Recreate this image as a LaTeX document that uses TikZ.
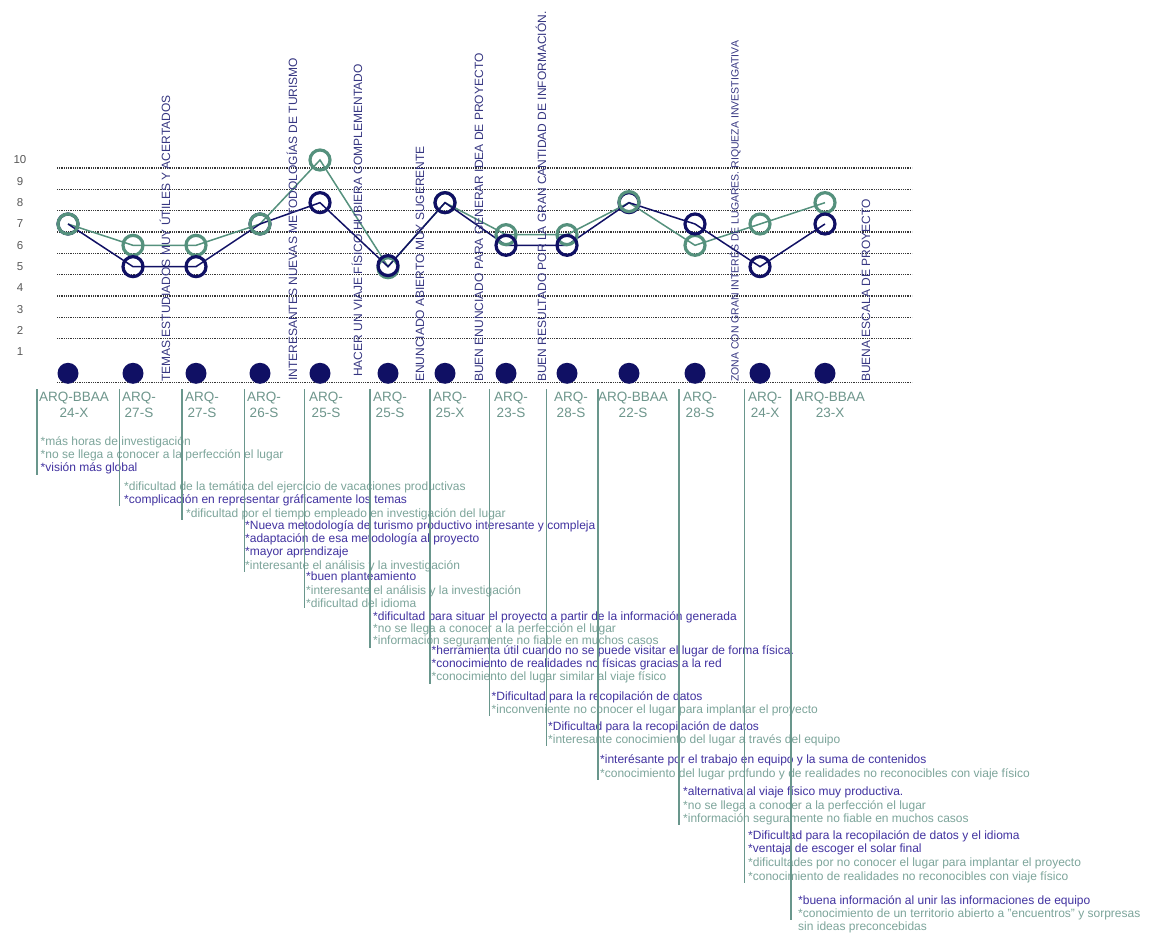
\documentclass[tikz,border=0pt]{standalone}
\usepackage{fontspec}
\setmainfont{Liberation Sans}
\usepackage{tikz}

\definecolor{tutor}{RGB}{16,16,100}
\definecolor{alumno}{RGB}{85,145,125}
\definecolor{rotulo}{RGB}{55,55,130}
\definecolor{codigo}{RGB}{110,150,140}
\definecolor{fuerte}{RGB}{65,50,160}
\definecolor{suave}{RGB}{125,165,155}
\definecolor{raya}{RGB}{105,150,140}
\definecolor{rejilla}{RGB}{55,55,55}

\tikzstyle{rej}=[draw=rejilla, line width=1.3pt, dash pattern=on 1pt off 0.8pt]
\tikzstyle{eje}=[inner sep=0pt, text=black!65, font=\fontsize{11.5}{11.5}\selectfont]
\tikzstyle{vert}=[rotate=90, anchor=west, inner sep=0pt, text=rotulo, font=\fontsize{12}{12}\selectfont]
\tikzstyle{cod}=[inner sep=0pt, align=center, text=codigo, font=\fontsize{13.5}{16}\selectfont]
\tikzstyle{nota}=[anchor=north west, inner sep=0pt, align=left, font=\fontsize{12}{13.3}\selectfont]
\tikzstyle{sep}=[draw=raya, line width=1.2pt]
\tikzstyle{aro}=[line width=3.2pt]

\newcommand{\fu}[1]{{\color{fuerte}#1}}
\newcommand{\su}[1]{{\color{suave}#1}}

\begin{document}
\begin{tikzpicture}[x=1pt, y=-1pt]
	\useasboundingbox (0,0) rectangle (1149,936);
	\fill[white] (0,0) rectangle (1149,936);

	% grafico de notas
	\begin{scope}[shift={(0,373.3)}, y=21.33pt]
		\foreach \k in {2,...,10} \draw[rej] (57,\k-0.375) -- (912,\k-0.375);
		\draw[rej] (57,-0.44) -- (912,-0.44);
		\foreach \k in {1,...,10} \node[eje] (e\k) at (20,\k) {\k};

		\draw[alumno, line width=1.5pt] plot coordinates {(68,7) (133,6) (196,6) (260,7) (320,10) (388,5) (445,8) (506,6.5) (567,6.5) (629,8) (695,6) (760,7) (825,8)};
		\draw[tutor, line width=1.5pt] plot coordinates {(68,7) (133,5) (196,5) (260,7) (320,8) (388,5) (445,8) (506,6) (567,6) (629,8) (695,7) (760,5) (825,7)};

		\draw[tutor, aro] (68,7) circle (10pt) (260,7) circle (10pt) (629,8) circle (10pt);
		\draw[alumno, aro] (68,7) circle (10pt) (133,6) circle (10pt) (196,6) circle (10pt) (260,7) circle (10pt) (320,10) circle (10pt) (388,4.95) circle (10pt) (445,8) circle (10pt);
		\draw[alumno, aro] (506,6.5) circle (10pt) (567,6.5) circle (10pt) (629,8.05) circle (10pt) (695,6) circle (10pt) (760,7) circle (10pt) (825,8) circle (10pt);
		\draw[tutor, aro] (133,5) circle (10pt) (196,5) circle (10pt) (320,8) circle (10pt) (388,5.05) circle (10pt) (445,8) circle (10pt) (506,6) circle (10pt) (567,6) circle (10pt) (695,7) circle (10pt) (760,5) circle (10pt) (825,7) circle (10pt);

		\fill[tutor] (68,0) circle (10.5pt) (133,0) circle (10.5pt) (196,0) circle (10.5pt) (260,0) circle (10.5pt) (320,0) circle (10.5pt) (388,0) circle (10.5pt) (445,0) circle (10.5pt);
		\fill[tutor] (506,0) circle (10.5pt) (567,0) circle (10.5pt) (629,0) circle (10.5pt) (695,0) circle (10.5pt) (760,0) circle (10.5pt) (825,0) circle (10.5pt);
	\end{scope}

	% rotulos verticales
	\node[vert] (v1) at (165,382) {TEMAS ESTUDIADOS MUY ÚTILES Y ACERTADOS};
	\node[vert] (v2) at (292,381) {INTERESANTES NUEVAS METODOLOGÍAS DE TURISMO};
	\node[vert] (v3) at (357,377) {HACER UN VIAJE FÍSICO HUBIERA COMPLEMENTADO};
	\node[vert] (v4) at (420,382) {ENUNCIADO ABIERTO MUY SUGERENTE};
	\node[vert] (v5) at (479,382) {BUEN ENUNCIADO PARA GENERAR IDEA DE PROYECTO};
	\node[vert] (v6) at (541,382) {BUEN RESULTADO POR LA GRAN CANTIDAD DE INFORMACIÓN.};
	\node[vert, font=\fontsize{10.5}{10.5}\selectfont] (v7) at (735,382) {ZONA CON GRAN INTERÉS DE LUGARES. RIQUEZA INVESTIGATIVA};
	\node[vert] (v8) at (866,382) {BUENA ESCALA DE PROYECTO};

	% codigos de grupo
	\node[cod] (l1) at (74,405) {ARQ-BBAA\\24-X};
	\node[cod] (l2) at (139,405) {ARQ-\\27-S};
	\node[cod] (l3) at (202,405) {ARQ-\\27-S};
	\node[cod] (l4) at (264,405) {ARQ-\\26-S};
	\node[cod] (l5) at (326,405) {ARQ-\\25-S};
	\node[cod] (l6) at (390,405) {ARQ-\\25-S};
	\node[cod] (l7) at (450,405) {ARQ-\\25-X};
	\node[cod] (l8) at (511,405) {ARQ-\\23-S};
	\node[cod] (l9) at (571,405) {ARQ-\\28-S};
	\node[cod] (l10) at (633,405) {ARQ-BBAA\\22-S};
	\node[cod] (l11) at (700,405) {ARQ-\\28-S};
	\node[cod] (l12) at (765,405) {ARQ-\\24-X};
	\node[cod] (l13) at (830,405) {ARQ-BBAA\\23-X};

	% comentarios
	\node[nota] (n1) at (40.5,436.2) {\su{*más horas de investigación}\\\su{*no se llega a conocer a la perfección el lugar}\\\fu{*visión más global}};
	\node[nota] (n2) at (124,481.2) {\su{*dificultad de la temática del ejercicio de vacaciones productivas}\\\fu{*complicación en representar gráficamente los temas}};
	\node[nota] (n3) at (186,508.5) {\su{*dificultad por el tiempo empleado en investigación del lugar}};
	\node[nota] (n4) at (245,520.2) {\fu{*Nueva metodología de turismo productivo interesante y compleja}\\\fu{*adaptación de esa metodología al proyecto}\\\fu{*mayor aprendizaje}\\\su{*interesante el análisis y la investigación}};
	\node[nota] (n5) at (306,571.9) {\fu{*buen planteamiento}\\\su{*interesante el análisis y la investigación}\\\su{*dificultad del idioma}};
	\node[nota, font=\fontsize{12}{12}\selectfont] (n6) at (373,611.9) {\fu{*dificultad para situar el proyecto a partir de la información generada}\\\su{*no se llega a conocer a la perfección el lugar}\\\su{*información seguramente no fiable en muchos casos}};
	\node[nota] (n7) at (431.5,645.2) {\fu{*herramienta útil cuando no se puede visitar el lugar de forma física.}\\\fu{*conocimiento de realidades no físicas gracias a la red}\\\su{*conocimiento del lugar similar al viaje físico}};
	\node[nota] (n8) at (491.5,691.2) {\fu{*Dificultad para la recopilación de datos}\\\su{*inconveniente no conocer el lugar para implantar el proyecto}};
	\node[nota] (n9) at (548,721.2) {\fu{*Dificultad para la recopilación de datos}\\\su{*interesante conocimiento del lugar a través del equipo}};
	\node[nota] (n10) at (600,754.7) {\fu{*interésante por el trabajo en equipo y la suma de contenidos}\\\su{*conocimiento del lugar profundo y de realidades no reconocibles con viaje físico}};
	\node[nota] (n11) at (683,786.9) {\fu{*alternativa al viaje físico muy productiva.}\\\su{*no se llega a conocer a la perfección el lugar}\\\su{*información seguramente no fiable en muchos casos}};
	\node[nota, font=\fontsize{12}{13.7}\selectfont] (n12) at (748,830.2) {\fu{*Dificultad para la recopilación de datos y el idioma}\\\fu{*ventaja de escoger el solar final}\\\su{*dificultades por no conocer el lugar para implantar el proyecto}\\\su{*conocimiento de realidades no reconocibles con viaje físico}};
	\node[nota] (n13) at (798,895.2) {\fu{*buena información al unir las informaciones de equipo}\\\su{*conocimiento de un territorio abierto a "encuentros" y sorpresas}\\\su{sin ideas preconcebidas}};

	% rayas de separacion
	\coordinate (s1) at (37,389);
	\coordinate (s2) at (119.5,389);
	\coordinate (s3) at (182,389);
	\coordinate (s4) at (244.5,389);
	\coordinate (s5) at (304.5,389);
	\coordinate (s6) at (370,389);
	\coordinate (s7) at (430,389);
	\coordinate (s8) at (489.5,389);
	\coordinate (s9) at (546.5,389);
	\coordinate (s10) at (598,389);
	\coordinate (s11) at (679,389);
	\coordinate (s12) at (744.5,389);
	\coordinate (s13) at (791,389);
	\coordinate (f13) at (791,920);
	\draw[sep] (s1) -- (s1 |- n1.south);
	\draw[sep] (s2) -- (s2 |- n2.south);
	\draw[sep] (s3) -- (s3 |- n3.south);
	\draw[sep] (s4) -- (s4 |- n4.south);
	\draw[sep] (s5) -- (s5 |- n5.south);
	\draw[sep] (s6) -- (s6 |- n6.south);
	\draw[sep] (s7) -- (s7 |- n7.south);
	\draw[sep] (s8) -- (s8 |- n8.south);
	\draw[sep] (s9) -- (s9 |- n9.south);
	\draw[sep] (s10) -- (s10 |- n10.south);
	\draw[sep] (s11) -- (s11 |- n11.south);
	\draw[sep] (s12) -- (s12 |- n12.south);
	\draw[sep] (s13) -- (f13);
\end{tikzpicture}
\end{document}
